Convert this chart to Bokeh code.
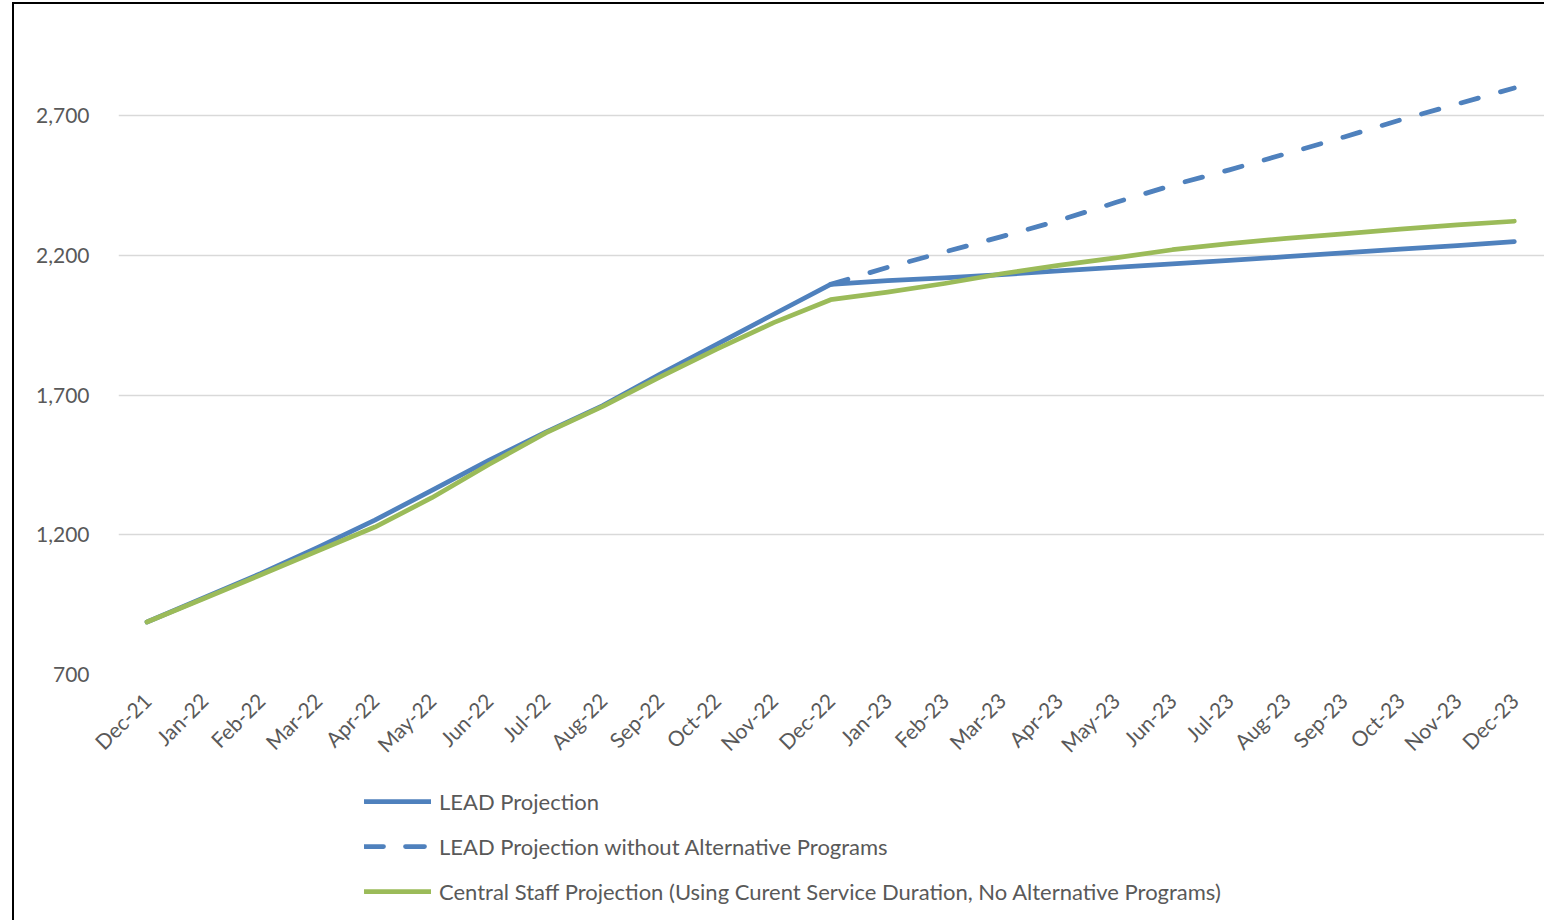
import math
from bokeh.plotting import figure
from bokeh.layouts import column
from bokeh.models import Range1d, FixedTicker, Legend, LegendItem, ColumnDataSource
from bokeh.embed import file_html
from bokeh.resources import INLINE

months = ["Dec-21", "Jan-22", "Feb-22", "Mar-22", "Apr-22", "May-22", "Jun-22",
          "Jul-22", "Aug-22", "Sep-22", "Oct-22", "Nov-22", "Dec-22",
          "Jan-23", "Feb-23", "Mar-23", "Apr-23", "May-23", "Jun-23",
          "Jul-23", "Aug-23", "Sep-23", "Oct-23", "Nov-23", "Dec-23"]

lead_projection = [888, 975, 1062, 1155, 1253, 1359, 1467, 1568, 1663, 1775, 1882, 1990, 2097,
                   2110, 2120, 2132, 2145, 2158, 2170, 2183, 2196, 2210, 2223, 2236, 2250]

lead_no_alt_months = months[12:]
lead_no_alt = [2097, 2158, 2213, 2268, 2325, 2390, 2452, 2507, 2565, 2624, 2686, 2743, 2800]

central_staff = [888, 972, 1057, 1143, 1228, 1333, 1452, 1565, 1660, 1765, 1865, 1960, 2042,
                 2069, 2100, 2135, 2165, 2192, 2221, 2243, 2262, 2278, 2295, 2310, 2323]

series_names = ["LEAD Projection",
                "LEAD Projection without Alternative Programs",
                "Central Staff Projection (Using Curent Service Duration, No Alternative Programs)"]

y_ticks = [700, 1200, 1700, 2200, 2700]

BLUE = "#4F81BD"
GREEN = "#9BBB59"
TEXT = "#595959"
FONT = "Lato"
LW = 4.75

idx = {m: i for i, m in enumerate(months)}

src_lead = ColumnDataSource(dict(x=[idx[m] for m in months], y=lead_projection))
src_noalt = ColumnDataSource(dict(x=[idx[m] for m in lead_no_alt_months], y=lead_no_alt))
src_central = ColumnDataSource(dict(x=[idx[m] for m in months], y=central_staff))

W = 1530
H_MAIN = 780
H_LEG = 136

p = figure(width=W, height=H_MAIN, output_backend="svg", toolbar_location=None,
           x_range=Range1d(-0.5, 24.53), y_range=Range1d(700, 3049),
           min_border_left=104, min_border_right=0, min_border_top=14, min_border_bottom=110)
p.outline_line_color = None
p.background_fill_color = "white"
p.border_fill_color = "white"

p.line("x", "y", source=src_lead, line_color=BLUE, line_width=LW,
       line_cap="round", line_join="round")
p.line("x", "y", source=src_noalt, line_color=BLUE, line_width=LW,
       line_dash="18 23", line_cap="round", line_join="round")
p.line("x", "y", source=src_central, line_color=GREEN, line_width=LW,
       line_cap="round", line_join="round")

# axes
p.xaxis.ticker = FixedTicker(ticks=list(range(len(months))))
p.xaxis.major_label_overrides = {i: m for i, m in enumerate(months)}
p.xaxis.major_label_orientation = math.pi / 4
p.yaxis.ticker = FixedTicker(ticks=y_ticks)
p.yaxis.major_label_overrides = {v: f"{v:,}" for v in y_ticks}
for ax in (p.xaxis, p.yaxis):
    ax.axis_line_color = None
    ax.major_tick_line_color = None
    ax.minor_tick_line_color = None
    ax.major_label_text_font = FONT
    ax.major_label_text_font_size = "21px"
    ax.major_label_text_color = TEXT
p.xaxis.major_label_standoff = 16
p.yaxis.major_label_standoff = 23

p.xgrid.grid_line_color = None
p.ygrid.grid_line_color = "#D9D9D9"
p.ygrid.grid_line_width = 1.5

# legend panel: a second figure under the chart; its ranges keep the series out of
# view so that only the legend (with its glyphs) is shown
pl = figure(width=W, height=H_LEG, output_backend="svg", toolbar_location=None,
            x_range=Range1d(1000, 1001), y_range=Range1d(0, 1),
            min_border_left=0, min_border_right=0, min_border_top=0, min_border_bottom=0)
pl.axis.visible = False
pl.grid.visible = False
pl.outline_line_color = None
pl.background_fill_color = "white"
pl.border_fill_color = "white"

k1 = pl.line("x", "y", source=src_lead, line_color=BLUE, line_width=LW, line_cap="round")
k2 = pl.line("x", "y", source=src_noalt, line_color=BLUE, line_width=LW, line_cap="round",
             line_dash="19 22")
k3 = pl.line("x", "y", source=src_central, line_color=GREEN, line_width=LW, line_cap="round")

legend = Legend(items=[LegendItem(label=series_names[0], renderers=[k1]),
                       LegendItem(label=series_names[1], renderers=[k2]),
                       LegendItem(label=series_names[2], renderers=[k3])],
                location=(246, 15))
legend.border_line_color = None
legend.background_fill_alpha = 0
legend.padding = 0
legend.margin = 0
legend.spacing = 17
legend.glyph_width = 67
legend.glyph_height = 28
legend.label_height = 28
legend.label_standoff = 8
legend.label_text_font = FONT
legend.label_text_font_size = "22px"
legend.label_text_color = TEXT
legend.label_text_baseline = "middle"
pl.add_layout(legend)

layout = column(p, pl, spacing=0,
                styles={"margin-left": "12px", "margin-top": "2px",
                        "border-left": "2px solid black", "border-top": "2px solid black"})

open("out.html", "w").write(file_html(layout, INLINE))
